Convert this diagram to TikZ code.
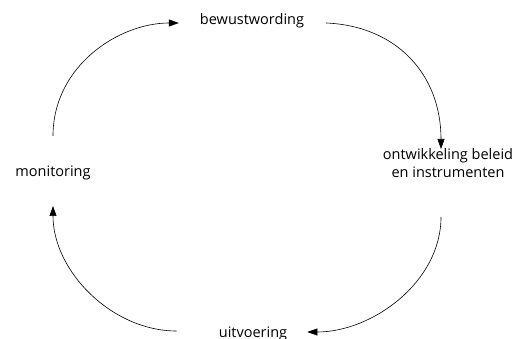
\documentclass[tikz,border=0pt]{standalone}
\usepackage{fontspec}
\setmainfont{Open Sans}
\usetikzlibrary{arrows.meta,calc}
\begin{document}
\begin{tikzpicture}[x=1pt,y=-1pt,
  lbl/.style={font=\fontsize{14.5}{18}\selectfont, inner sep=0pt, align=center},
  flow/.style={line width=0.6pt, -{Triangle[length=10pt,width=7pt]}}]
\useasboundingbox (0,0) rectangle (515,339);
\node[lbl,anchor=base] (bew) at (252,25) {bewustwording};
\node[lbl,anchor=base] (mon) at (53,177) {monitoring};
\node[lbl,anchor=base] (ont) at (448,178) {ontwikkeling beleid\\en instrumenten};
\node[lbl,anchor=base] (uit) at (253,338) {uitvoering};
\coordinate (a1) at ($(mon.base)+(0,-41)$);
\coordinate (a2) at ($(bew.base west)+(-21,-2)$);
\coordinate (b1) at ($(bew.base east)+(22,-2)$);
\coordinate (b2) at (441,149);
\coordinate (c1) at (441,217);
\coordinate (c2) at ($(uit.base east)+(20,-6)$);
\coordinate (d1) at ($(uit.base west)+(-42,-7)$);
\coordinate (d2) at ($(mon.base)+(0,29)$);
\draw[flow] (a1) .. controls ($(a1)+(0,-70)$) and ($(a2)+(-60,0)$) .. (a2);
\draw[flow] (b1) .. controls ($(b1)+(70,3)$) and ($(b2)+(0,-75)$) .. (b2);
\draw[flow] (c1) .. controls ($(c1)+(0,65)$) and ($(c2)+(65,0)$) .. (c2);
\draw[flow] (d1) .. controls ($(d1)+(-65,0)$) and ($(d2)+(0,65)$) .. (d2);
\end{tikzpicture}
\end{document}
